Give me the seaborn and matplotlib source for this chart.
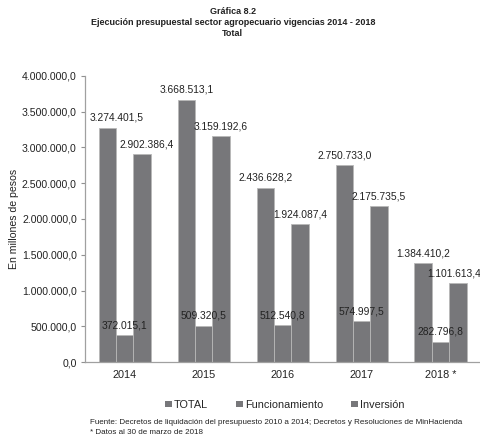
import matplotlib
matplotlib.use("Agg")
import matplotlib.pyplot as plt
import seaborn as sns
import pandas as pd
from matplotlib.patches import Patch

years = ["2014", "2015", "2016", "2017", "2018 *"]
series = ["TOTAL", "Funcionamiento", "Inversión"]
total = [3274401.5, 3668513.1, 2436628.2, 2750733.0, 1384410.2]
funcionamiento = [372015.1, 509320.5, 512540.8, 574997.5, 282796.8]
inversion = [2902386.4, 3159192.6, 1924087.4, 2175735.5, 1101613.4]
yticks = [0, 500000, 1000000, 1500000, 2000000, 2500000, 3000000, 3500000, 4000000]


def fmt(v, dec=1):
    s = f"{v:,.{dec}f}"
    return s.replace(",", "X").replace(".", ",").replace("X", ".")


sns.set_theme(style="white")
plt.rcParams["font.family"] = ["Liberation Sans", "DejaVu Sans"]

df = pd.DataFrame({
    "year": years * 3,
    "serie": [series[0]] * 5 + [series[1]] * 5 + [series[2]] * 5,
    "value": total + funcionamiento + inversion,
})

bar_color = "#77777a"
fig = plt.figure(figsize=(4.81, 4.41), dpi=100)
ax = fig.add_axes([0.177, 0.179, 0.821, 0.649])

sns.barplot(data=df, x="year", y="value", hue="serie", order=years,
            hue_order=series, palette=[bar_color] * 3, width=0.66,
            edgecolor="#b8b8b8", linewidth=0.6, saturation=1, ax=ax,
            legend=False, errorbar=None)

ax.set_ylim(0, 4000000)
ax.set_yticks(yticks)
ax.set_yticklabels([fmt(v) for v in yticks], fontsize=7.6, color="#222222")
ax.tick_params(axis="y", length=3, width=0.8, color="#909090", pad=3, left=True)
ax.tick_params(axis="x", length=0, labelsize=7.8, labelcolor="#222222", pad=6)
ax.set_xlabel("")
ax.set_ylabel("En millones de pesos", fontsize=7.6, color="#222222", labelpad=2)
for side in ["top", "right"]:
    ax.spines[side].set_visible(False)
for side in ["left", "bottom"]:
    ax.spines[side].set_color("#a0a0a0")
    ax.spines[side].set_linewidth(0.9)

# value labels above each bar, nudged inward where they would meet the frame edges
n = len(years)
for ci, cont in enumerate(ax.containers):
    for bi, bar in enumerate(cont):
        h = bar.get_height()
        xc = bar.get_x() + bar.get_width() / 2
        dx = 0
        if bi == 0 and ci == 0:
            dx = 7
        elif bi == 0 and ci == 2:
            dx = 3.5
        elif bi == n - 1 and ci == 2:
            dx = -3
        ax.annotate(fmt(h), (xc, h), xytext=(dx, 3.5), textcoords="offset points",
                    ha="center", va="bottom", fontsize=7.4, color="#222222")

handles = [Patch(facecolor=bar_color, edgecolor="none") for _ in series]
fig.legend(handles, series, loc="center", bbox_to_anchor=(0.592, 0.082), ncol=3,
           frameon=False, fontsize=7.8, handlelength=0.6, handleheight=0.6,
           handletextpad=0.2, columnspacing=2.6)

fig.text(0.484, 0.975, "Gráfica 8.2", ha="center", va="center", fontsize=6.5,
         fontweight="bold", color="#222222")
fig.text(0.484, 0.948, "Ejecución presupuestal sector agropecuario vigencias 2014 - 2018",
         ha="center", va="center", fontsize=6.5, fontweight="bold", color="#222222")
fig.text(0.484, 0.925, "Total", ha="center", va="center", fontsize=6.5,
         fontweight="bold", color="#222222")

fig.text(0.187, 0.043, "Fuente: Decretos de liquidación del presupuesto 2010 a 2014; "
         "Decretos y Resoluciones de MinHacienda", ha="left", va="center",
         fontsize=5.8, color="#222222")
fig.text(0.187, 0.020, "* Datos al 30 de marzo de 2018", ha="left", va="center",
         fontsize=5.8, color="#222222")

fig.savefig("out.png", dpi=100)
